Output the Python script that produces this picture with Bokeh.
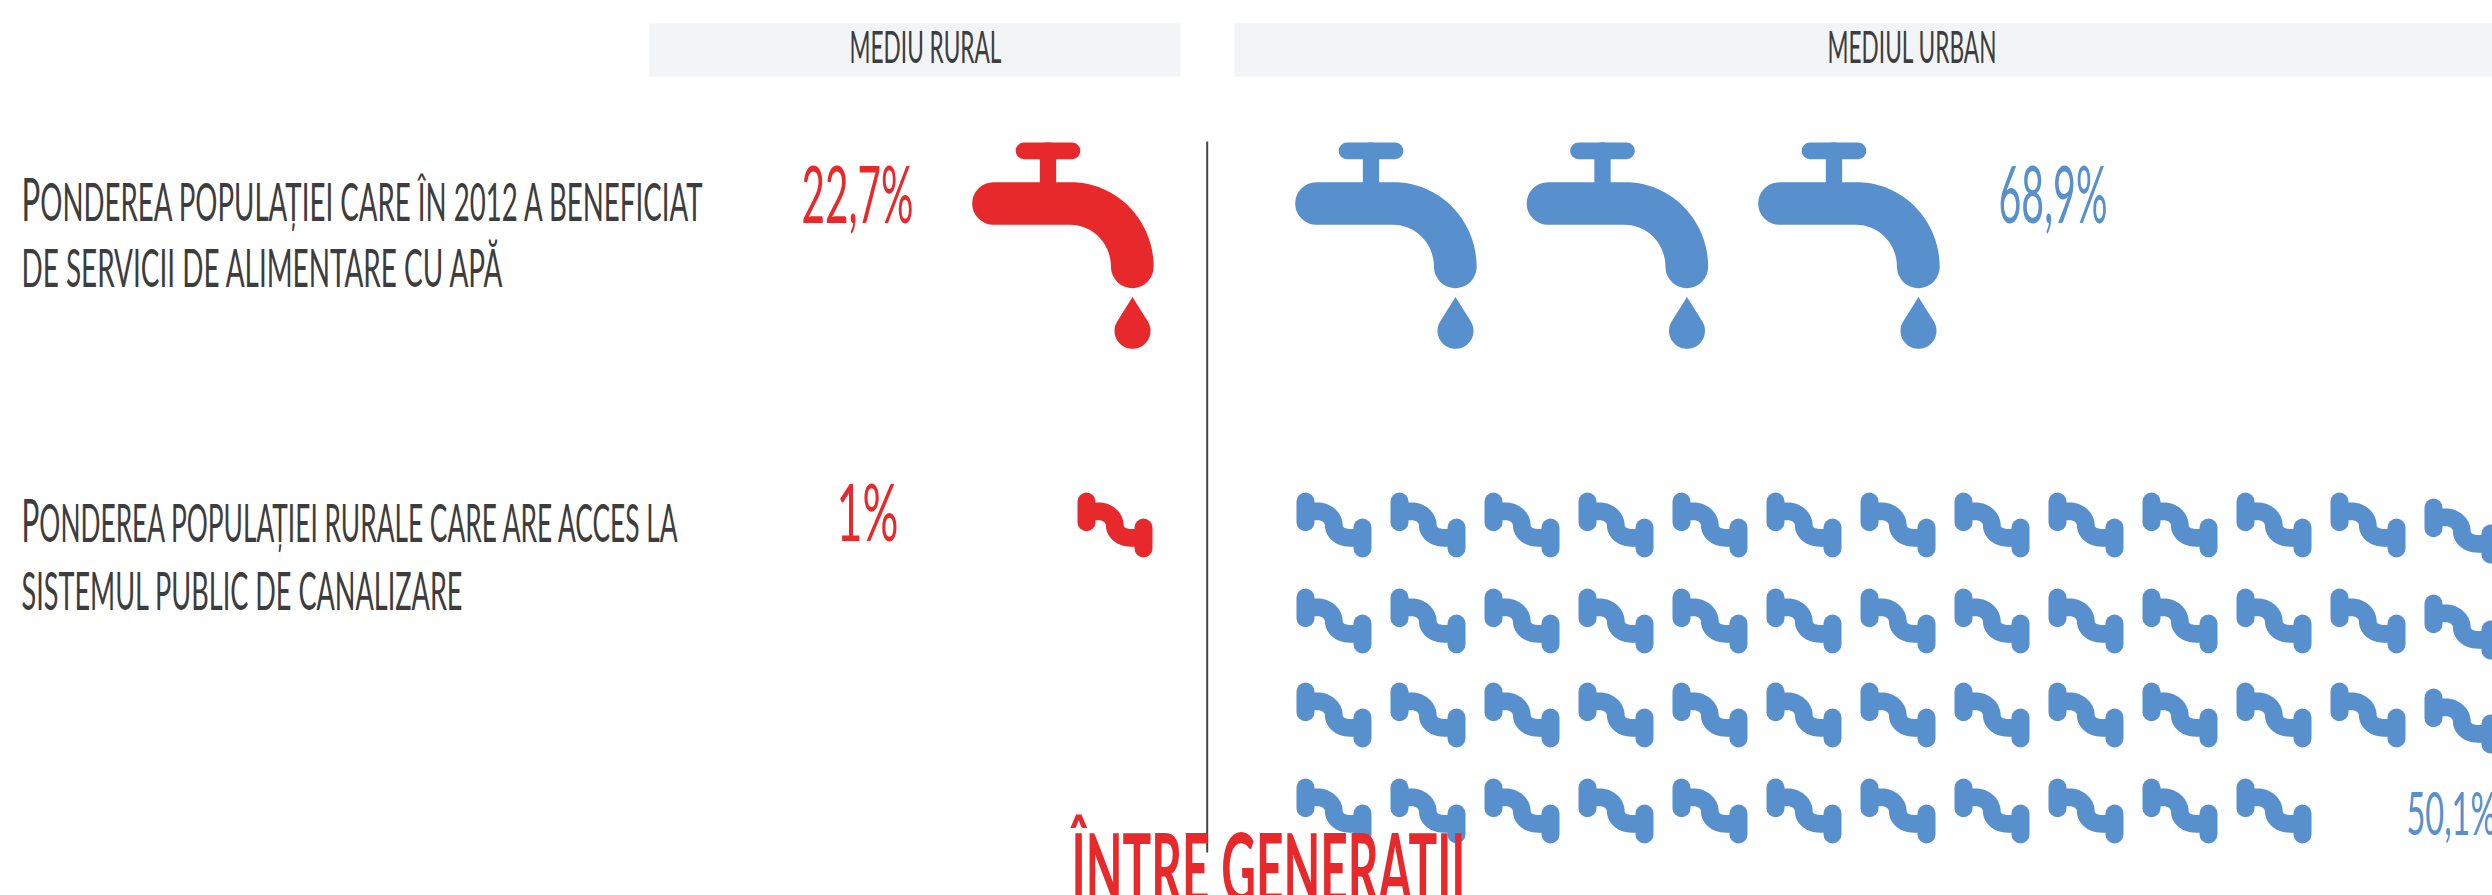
import numpy as np
from bokeh.plotting import figure, curdoc
from bokeh.models import CustomJS, Range1d
from bokeh.core.properties import value
from bokeh.embed import file_html
from bokeh.resources import INLINE

# ---- data ----
headers = ["MEDIU RURAL", "MEDIUL URBAN"]
question_water = ["PONDEREA POPULAȚIEI CARE ÎN 2012 A BENEFICIAT", "DE SERVICII DE ALIMENTARE CU APĂ"]
question_sewer = ["PONDEREA POPULAȚIEI RURALE CARE ARE ACCES LA", "SISTEMUL PUBLIC DE CANALIZARE"]
water_labels = ["22,7%", "68,9%"]
sewer_labels = ["1%", "50,1%"]
water_icons = [1, 3]          # rural, urban tap icons
sewer_icons_rural = [1]       # pipes per row
sewer_icons_urban = [13, 13, 13, 11]
next_title = "ÎNTRE GENERAȚII"

RED, BLUE, INK = "#e8292b", "#588fcd", "#3d3d3d"
BAND = "#f3f4f6"
FONT = "Lato"

W, H = 2492, 895
p = figure(width=W, height=H, output_backend="svg", toolbar_location=None,
           x_range=Range1d(0, W), y_range=Range1d(H, 0), min_border=0)
p.xaxis.visible = False
p.yaxis.visible = False
p.grid.visible = False
p.outline_line_color = None
p.background_fill_color = "white"
p.border_fill_color = "white"

# header bands
p.quad(left=[649, 1234], right=[1180, W], top=[23, 23], bottom=[76, 76],
       fill_color=BAND, line_color=None)
# divider
p.line(x=[1206.7, 1206.7], y=[141, 852], line_color="#444444", line_width=2)


def arc(cx, cy, rx, ry, a0, a1, n=24):
    t = np.radians(np.linspace(a0, a1, n))
    return cx + rx * np.cos(t), cy + ry * np.sin(t)


def tap(ox, oy, color):
    # handle, stem
    p.multi_line(xs=[[ox + 73.5, ox + 121.5], [ox + 97.5, ox + 97.5]],
                 ys=[[oy + 30.3, oy + 30.3], [oy + 30, oy + 70]],
                 line_color=color, line_width=[16.7, 16.3], line_cap="round")
    # spout
    ax, ay = arc(ox + 120, oy + 146.3, 61.8, 63.3, -90, 0)
    xs = np.concatenate([[ox + 43], ax])
    ys = np.concatenate([[oy + 83], ay])
    p.line(x=xs, y=ys, line_color=color, line_width=42.7, line_cap="round", line_join="round")
    # drop
    cx, cy, r, tip = ox + 182, oy + 210.3, 18, 33.7
    ang = np.degrees(np.arcsin(r / tip))
    dx, dy = arc(cx, cy, r, r, -90 + (90 - ang), 270 - (90 - ang), 40)
    p.patch(x=np.concatenate([[cx], dx]), y=np.concatenate([[cy - tip], dy]),
            fill_color=color, line_color=None)


def pipe(ox, oy, color):
    a1x, a1y = arc(ox + 21, oy + 33, 16.3, 14.2, -90, 0)
    a2x, a2y = arc(ox + 53, oy + 33, 15.7, 12.3, 180, 90)
    xs = np.concatenate([[ox + 9], a1x, a2x, [ox + 66]])
    ys = np.concatenate([[oy + 18.8], a1y, a2y, [oy + 45.3]])
    p.line(x=xs, y=ys, line_color=color, line_width=17.7, line_join="round")
    p.multi_line(xs=[[ox + 9, ox + 9], [ox + 66, ox + 66]],
                 ys=[[oy + 9, oy + 29.7], [oy + 35, oy + 56]],
                 line_color=color, line_width=18, line_cap="round")


# taps
for i in range(water_icons[0]):
    tap(950 + i * 231.5, 120, RED)
for i in range(water_icons[1]):
    tap(1273 + i * 231.5, 120, BLUE)

# pipes
for n in sewer_icons_rural:
    for c in range(n):
        pipe(1077 + c * 94, 492, RED)
row_tops = [492, 588, 682, 778]
for r, n in enumerate(sewer_icons_urban):
    for c in range(n):
        pipe(1296 + c * 94, row_tops[r] + (6 if c == 12 else 0), BLUE)

# texts: string, x, baseline y, font px, target width, colour, style
items = [
    (headers[0], 849, 64, 44, 152, INK, "normal"),
    (headers[1], 1827, 64, 44, 169, INK, "normal"),
    (question_water[0], 21, 222, 53, 681, INK, "normal"),
    (question_water[1], 21, 288, 53, 481, INK, "normal"),
    (question_sewer[0], 21, 543, 53, 656, INK, "normal"),
    (question_sewer[1], 21, 611, 53, 441, INK, "normal"),
    (water_labels[0], 801, 225, 80, 112, RED, "normal"),
    (water_labels[1], 1998, 225, 80, 109, BLUE, "normal"),
    (sewer_labels[0], 836, 543, 80, 62, RED, "normal"),
    (sewer_labels[1], 2406, 837, 60, 90, BLUE, "normal"),
    (next_title, 1071, 907, 98, 394, RED, "bold"),
]
SHIFT = 0.42  # em: bokeh's alphabetic anchor sits this far above the drawn baseline
for s, x, y, size, w, col, style in items:
    p.text(x=[x], y=[y - SHIFT * size], text=[s], text_font=value(FONT), text_font_size=f"{size}px",
           text_color=col, text_font_style=style, text_baseline="alphabetic", text_align="left")

# the source face is extremely condensed: squeeze the real text to its measured width
widths = {s: w for s, _, _, _, w, _, _ in items}
squeeze = CustomJS(args=dict(widths=widths), code="""
function walk(root, out) {
  for (const el of root.querySelectorAll('*')) {
    if (el.tagName && el.tagName.toLowerCase() === 'text') out.push(el);
    if (el.shadowRoot) walk(el.shadowRoot, out);
  }
  return out;
}
const NS = 'http://www.w3.org/2000/svg';
function run() {
  for (const t of walk(document, [])) {
    const s = t.textContent;
    const w = widths[s];
    if (w === undefined) continue;
    if (s.startsWith('PONDEREA') && !t.querySelector('tspan')) {
      const big = document.createElementNS(NS, 'tspan');
      big.setAttribute('font-size', '60');
      big.style.fontSize = '60px';
      big.textContent = s[0];
      t.textContent = s.slice(1);
      t.insertBefore(big, t.firstChild);
    }
    t.setAttribute('textLength', w);
    t.setAttribute('lengthAdjust', 'spacingAndGlyphs');
  }
}
run();
for (const ms of [50, 200, 500, 1000, 2000]) setTimeout(run, ms);
""")
doc = curdoc()
doc.add_root(p)
doc.js_on_event("document_ready", squeeze)

open("out.html", "w").write(file_html(p, INLINE))
